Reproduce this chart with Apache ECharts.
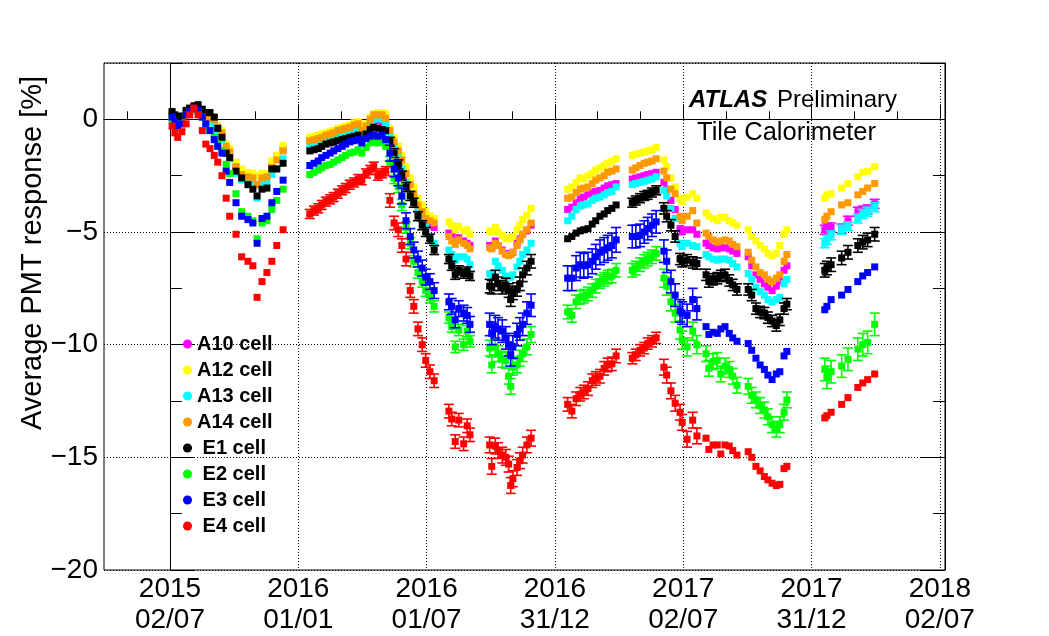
<!DOCTYPE html>
<html>
<head>
<meta charset="utf-8">
<script src="https://cdn.jsdelivr.net/npm/echarts@6/dist/echarts.min.js"></script>
<style>
  html, body { margin: 0; padding: 0; background: #fff; }
  #chart { width: 1049px; height: 636px; }
</style>
</head>
<body>
<div id="chart"></div>
<script>
// days after 2015-07-02 of each laser calibration point
const days = [
  3, 7, 11, 17, 23, 28, 34, 40, 46, 51, 57, 63, 68, 74, 80, 85, 94, 102, 111, 118, 124, 131, 138, 145, 152, 161,
  199, 205, 211, 216, 222, 228, 233, 239, 245, 250, 256, 262, 268, 273, 279, 285, 290, 296, 302, 307,
  313, 319, 325, 330, 336, 342, 347, 353, 359, 364, 370, 376, 397, 401, 406, 411, 418, 423, 427,
  455, 458, 463, 467, 473, 478, 482, 485, 488, 494, 498, 502, 508, 514,
  566, 572, 578, 584, 589, 595, 601, 606, 612, 618, 623, 629, 635,
  658, 663, 669, 675, 680, 686, 692,
  703, 707, 713, 719, 726, 729, 736, 744, 750,
  763, 767, 773, 779, 784, 790, 796, 801, 807, 823, 828, 834, 840, 846, 851, 857, 863, 868, 874, 878,
  932, 935, 941, 956, 965, 979, 986, 993, 1003
]
// first point of each period (error size is read per period)
const periodStart = [0, 26, 46, 65, 79, 92, 99, 108, 128]

const cellNames = ['A10 cell', 'A12 cell', 'A13 cell', 'A14 cell', 'E1 cell', 'E2 cell', 'E3 cell', 'E4 cell']
const cellColors = ['#ff00ff', '#ffff00', '#00ffff', '#ff9900', '#000000', '#00ff00', '#0000ff', '#ff0000']

const a10 = [
  0.2, 0.0, -0.1, 0.0, 0.3, 0.45, 0.55, 0.45, 0.25, 0.05, 0.0, -0.1, -0.45, -0.7, -1.3, -1.55, -2.1, -2.4, -2.5, -2.55, -2.9, -2.55, -2.5, -2.05, -1.65, -1.3,
  -0.95, -0.9, -0.85, -0.8, -0.75, -0.7, -0.65, -0.55, -0.5, -0.45, -0.4, -0.35, -0.3, -0.55, -0.45, -0.2, 0.0, -0.05, -0.1, -0.2,
  -0.8, -1.3, -1.7, -2.1, -2.7, -3.1, -3.5, -3.9, -4.2, -4.5, -4.7, -4.8, -5.05, -5.2, -5.4, -5.25, -5.4, -5.5, -5.6,
  -5.6, -5.7, -5.4, -5.6, -5.8, -5.95, -6.0, -6.0, -5.9, -5.5, -5.3, -5.1, -4.95, -4.7,
  -4.0, -3.9, -3.7, -3.5, -3.45, -3.35, -3.25, -3.2, -3.15, -3.05, -2.95, -2.9, -2.85,
  -2.65, -2.6, -2.55, -2.5, -2.45, -2.4, -2.35,
  -2.8, -3.1, -3.6, -4.0, -4.85, -5.0, -4.9, -4.9, -5.1,
  -5.5, -5.6, -5.7, -5.75, -5.7, -5.7, -5.75, -5.85, -5.95, -6.1, -6.5, -6.9, -7.1, -7.3, -7.45, -7.6, -7.4, -7.2, -6.7, -6.5,
  -4.9, -4.8, -4.8, -4.85, -4.5, -4.1, -4.05, -4.0, -3.75
]
const a12 = [
  0.3, 0.1, -0.1, 0.0, 0.3, 0.45, 0.55, 0.5, 0.3, 0.1, 0.15, 0.1, -0.3, -0.5, -1.1, -1.3, -1.9, -2.2, -2.35, -2.4, -2.5, -2.4, -2.4, -1.85, -1.6, -1.15,
  -0.8, -0.75, -0.7, -0.65, -0.6, -0.55, -0.5, -0.4, -0.35, -0.3, -0.25, -0.15, -0.1, -0.3, -0.2, 0.1, 0.25, 0.3, 0.3, 0.25,
  -0.4, -0.8, -1.2, -1.6, -2.1, -2.6, -3.0, -3.5, -3.8, -4.1, -4.3, -4.4, -4.55, -4.7, -4.9, -4.75, -4.95, -4.9, -5.1,
  -4.95, -5.0, -4.8, -5.0, -5.15, -5.3, -5.3, -5.25, -5.2, -4.9, -4.7, -4.45, -4.25, -3.95,
  -3.1, -3.0, -2.8, -2.6, -2.65, -2.5, -2.4, -2.25, -2.15, -2.05, -1.95, -1.85, -1.75,
  -1.6, -1.55, -1.5, -1.45, -1.4, -1.35, -1.25,
  -1.8, -2.1, -2.6, -3.0, -3.5, -3.65, -3.45, -3.3, -3.5,
  -4.15, -4.3, -4.4, -4.5, -4.35, -4.35, -4.5, -4.6, -4.7, -4.9, -5.2, -5.4, -5.6, -5.75, -5.95, -6.05, -5.95, -5.6, -5.1, -4.9,
  -3.5, -3.35, -3.3, -3.05, -2.85, -2.55, -2.35, -2.3, -2.1
]
const a13 = [
  0.3, 0.1, -0.1, 0.0, 0.3, 0.4, 0.5, 0.45, 0.2, 0.0, -0.1, -0.3, -0.6, -0.9, -1.5, -1.75, -2.4, -2.7, -2.8, -2.9, -3.5, -2.9, -2.85, -2.45, -2.2, -1.75,
  -1.1, -1.05, -1.0, -0.95, -0.9, -0.85, -0.8, -0.75, -0.7, -0.65, -0.6, -0.55, -0.5, -0.75, -0.5, -0.15, 0.0, 0.05, 0.0, -0.2,
  -0.7, -1.2, -1.6, -2.2, -2.8, -3.3, -3.7, -4.1, -4.4, -4.8, -5.2, -5.5, -5.8, -6.0, -6.25, -6.1, -6.1, -6.2, -6.45,
  -6.85, -6.9, -6.3, -6.5, -6.7, -6.95, -7.0, -7.0, -6.9, -6.55, -6.3, -6.0, -5.8, -5.5,
  -4.5, -4.3, -4.0, -3.85, -3.8, -3.75, -3.6, -3.5, -3.45, -3.35, -3.25, -3.2, -3.0,
  -2.9, -2.85, -2.8, -2.75, -2.7, -2.65, -2.55,
  -3.15, -3.4, -3.95, -4.4, -5.5, -5.65, -5.5, -5.6, -5.65,
  -6.0, -6.1, -6.2, -6.25, -6.2, -6.2, -6.25, -6.4, -6.55, -6.85, -7.1, -7.45, -7.65, -7.8, -8.0, -8.1, -8.0, -7.9, -7.3, -7.1,
  -5.5, -5.35, -5.15, -4.9, -4.75, -4.4, -4.2, -4.1, -3.9
]
const a14 = [
  0.25, 0.0, -0.15, -0.05, 0.3, 0.4, 0.5, 0.45, 0.3, 0.05, 0.05, 0.0, -0.35, -0.6, -1.2, -1.45, -2.1, -2.45, -2.55, -2.6, -2.9, -2.6, -2.55, -2.15, -1.8, -1.4,
  -0.95, -0.9, -0.85, -0.8, -0.7, -0.65, -0.6, -0.5, -0.45, -0.4, -0.35, -0.25, -0.2, -0.5, -0.3, 0.0, 0.2, 0.2, 0.2, 0.05,
  -0.5, -1.0, -1.4, -1.8, -2.4, -2.9, -3.3, -3.8, -4.1, -4.4, -4.5, -4.6, -5.2, -5.4, -5.55, -5.35, -5.5, -5.6, -5.75,
  -5.7, -5.75, -5.5, -5.6, -5.85, -6.0, -6.05, -6.0, -5.9, -5.6, -5.35, -5.1, -4.9, -4.6,
  -3.5, -3.45, -3.25, -3.1, -3.05, -3.0, -2.85, -2.7, -2.6, -2.5, -2.35, -2.3, -2.2,
  -2.25, -2.15, -2.05, -1.95, -1.9, -1.85, -1.75,
  -2.3, -2.6, -3.1, -3.3, -4.3, -4.5, -4.3, -4.05, -4.6,
  -5.05, -5.2, -5.35, -5.45, -5.4, -5.35, -5.4, -5.55, -5.65, -5.9, -6.25, -6.55, -6.8, -6.9, -7.1, -7.2, -7.05, -6.9, -6.3, -6.0,
  -4.45, -4.3, -4.1, -3.8, -3.7, -3.35, -3.2, -3.05, -2.85
]
const e1 = [
  0.35, 0.2, 0.1, 0.15, 0.4, 0.5, 0.6, 0.65, 0.45, 0.3, 0.3, 0.1, -0.4, -0.8, -1.5, -1.7, -2.3, -2.6, -2.9, -3.1, -3.4, -3.1, -3.05, -2.2, -2.2, -1.95,
  -1.4, -1.35, -1.3, -1.2, -1.1, -1.05, -1.0, -0.95, -0.9, -0.85, -0.8, -0.75, -0.7, -0.95, -0.65, -0.45, -0.35, -0.4, -0.45, -0.5,
  -1.0, -1.5, -2.0, -2.5, -3.0, -3.4, -3.7, -4.3, -4.7, -5.0, -5.3, -5.8, -6.2, -6.5, -6.9, -6.7, -6.85, -6.75, -6.95,
  -7.4, -7.45, -7.0, -7.3, -7.45, -7.35, -7.6, -8.0, -7.7, -7.55, -7.3, -6.9, -6.6, -6.3,
  -5.3, -5.2, -5.05, -4.95, -4.9, -4.85, -4.65, -4.5, -4.3, -4.2, -4.05, -3.95, -3.8,
  -3.7, -3.6, -3.5, -3.4, -3.35, -3.25, -3.15,
  -3.95, -4.3, -4.7, -5.2, -6.2, -6.3, -6.25, -6.35, -6.4,
  -6.9, -7.2, -7.1, -7.05, -6.95, -6.9, -7.15, -7.35, -7.55, -7.55, -7.8, -8.4, -8.55, -8.6, -8.8, -8.95, -9.15, -8.9, -8.4, -8.2,
  -6.7, -6.6, -6.45, -6.15, -5.9, -5.6, -5.45, -5.35, -5.1
]
const e2 = [
  0.0, -0.2, -0.3, -0.2, 0.2, 0.35, 0.45, 0.35, 0.1, -0.3, -0.5, -0.8, -1.1, -1.4, -2.0, -2.4, -3.3, -4.1, -4.3, -4.5, -5.3, -4.6, -4.5, -4.0, -3.6, -3.1,
  -2.45, -2.35, -2.25, -2.15, -2.05, -2.0, -1.9, -1.8, -1.7, -1.6, -1.5, -1.45, -1.35, -1.5, -1.25, -1.05, -1.0, -1.05, -1.0, -1.2,
  -1.9, -2.6, -3.0, -3.8, -4.8, -5.5, -6.3, -6.8, -7.2, -7.6, -7.9, -8.3, -8.8, -9.2, -10.1, -9.35, -10.0, -9.4, -9.85,
  -10.15, -10.9, -10.1, -10.4, -10.65, -10.7, -11.4, -11.85, -11.0, -10.9, -10.6, -10.4, -10.1, -9.55,
  -8.55, -8.7, -8.1, -7.9, -7.85, -7.75, -7.6, -7.4, -7.2, -7.1, -7.0, -6.95, -6.7,
  -6.7, -6.6, -6.45, -6.3, -6.2, -6.1, -5.95,
  -7.05, -7.4, -8.1, -8.6, -9.35, -9.8, -10.1, -9.4, -10.0,
  -10.4, -11.05, -10.75, -10.7, -11.3, -10.95, -11.1, -11.4, -11.8, -11.85, -12.25, -12.45, -12.7, -12.9, -13.2, -13.55, -13.75, -13.55, -13.0, -12.45,
  -11.1, -11.45, -11.2, -10.95, -10.65, -10.2, -10.0, -9.9, -9.1
]
const e3 = [
  0.1, -0.1, -0.3, -0.2, 0.2, 0.35, 0.5, 0.4, 0.1, -0.2, -0.5, -0.9, -1.2, -1.5, -2.3, -2.8, -3.7, -4.3, -4.45, -4.6, -5.5, -4.4, -4.3, -3.7, -3.2, -2.7,
  -2.05, -1.95, -1.85, -1.7, -1.6, -1.5, -1.4, -1.3, -1.2, -1.1, -1.0, -0.95, -0.9, -1.05, -0.85, -0.75, -0.7, -0.75, -0.7, -0.9,
  -1.5, -2.2, -2.6, -3.4, -4.5, -5.2, -5.8, -6.2, -6.6, -7.0, -7.2, -7.6, -8.1, -8.3, -8.9, -8.4, -8.6, -8.7, -9.1,
  -9.1, -9.5, -9.2, -9.3, -9.4, -9.7, -10.0, -10.45, -10.1, -9.55, -9.3, -9.1, -8.6, -8.25,
  -7.05, -7.05, -6.6, -6.45, -6.5, -6.45, -6.3, -6.1, -5.9, -5.8, -5.7, -5.6, -5.35,
  -5.2, -5.2, -5.15, -5.0, -4.85, -4.7, -4.55,
  -5.85, -6.3, -7.2, -7.8, -8.5, -8.6, -8.7, -8.0, -8.4,
  -9.2, -9.55, -9.45, -9.5, -9.3, -9.2, -9.5, -9.7, -9.85, -9.95, -10.25, -10.6, -10.9, -11.1, -11.35, -11.55, -11.3, -11.2, -10.5, -10.3,
  -8.45, -8.3, -8.0, -7.8, -7.55, -7.2, -6.95, -6.8, -6.55
]
const e4 = [
  -0.3, -0.6, -0.8, -0.55, -0.2, 0.2, 0.5, 0.2, -0.5, -1.1, -1.3, -1.6, -1.9, -2.5, -3.5, -4.3, -5.1, -6.1, -6.3, -6.5, -7.9, -7.2, -6.8, -6.3, -5.6, -4.9,
  -4.2, -4.05, -3.95, -3.8, -3.65, -3.55, -3.45, -3.3, -3.15, -3.05, -2.9, -2.8, -2.65, -2.7, -2.4, -2.25, -2.1, -2.5, -2.4, -2.3,
  -3.6, -4.6, -4.9, -5.6, -6.2, -7.6, -8.3, -9.3, -10.0, -10.7, -11.2, -11.6, -12.95, -13.3, -14.3, -13.35, -14.4, -13.6, -14.0,
  -14.45, -15.4, -14.5, -14.7, -14.9, -15.0, -15.3, -16.25, -15.95, -15.45, -15.15, -14.9, -14.45, -14.15,
  -12.65, -12.95, -12.4, -12.2, -12.1, -11.95, -11.6, -11.5, -11.4, -11.05, -10.9, -10.85, -10.5,
  -10.6, -10.45, -10.25, -10.15, -9.95, -9.85, -9.7,
  -11.0, -11.35, -12.05, -12.6, -13.0, -13.45, -14.2, -13.35, -14.05,
  -14.15, -14.65, -14.45, -14.45, -14.85, -14.45, -14.5, -14.7, -14.9, -14.75, -15.0, -15.4, -15.6, -15.85, -16.0, -16.15, -16.25, -16.2, -15.5, -15.4,
  -13.25, -13.15, -13.0, -12.65, -12.35, -11.9, -11.7, -11.55, -11.3
]

// error bar half-size [%] per period
const a10Err = [0.08, 0.08, 0.1, 0.12, 0.1, 0.1, 0.15, 0.15, 0.2]
const a12Err = [0.08, 0.08, 0.1, 0.12, 0.1, 0.1, 0.15, 0.12, 0.15]
const a13Err = [0.08, 0.08, 0.12, 0.15, 0.12, 0.12, 0.15, 0.15, 0.2]
const a14Err = [0.08, 0.08, 0.1, 0.12, 0.1, 0.1, 0.15, 0.15, 0.15]
const e1Err = [0.08, 0.1, 0.2, 0.3, 0.15, 0.2, 0.25, 0.25, 0.3]
const e2Err = [0.1, 0.12, 0.25, 0.35, 0.3, 0.3, 0.4, 0.35, 0.5]
const e3Err = [0.12, 0.15, 0.35, 0.5, 0.55, 0.5, 0.5, 0.1, 0.12]
const e4Err = [0.15, 0.2, 0.3, 0.35, 0.3, 0.25, 0.35, 0.1, 0.15]

const majorDays = [0, 182.625, 365.25, 547.875, 730.5, 913.125, 1095.75]
const tickLabels = ['2015\n02/07', '2016\n01/01', '2016\n01/07', '2016\n31/12', '2017\n02/07', '2017\n31/12', '2018\n02/07']

const cellValues = [a10, a12, a13, a14, e1, e2, e3, e4]
const cellErrors = [a10Err, a12Err, a13Err, a14Err, e1Err, e2Err, e3Err, e4Err]

const dayMin = -93.9
const dayMax = 1103.1
const minorDays = []
for (let d = -60.875; d < dayMax; d += 60.875) minorDays.push(d)

const font = 'Liberation Sans, Arial, sans-serif'

function periodOf(i) {
  let p = 0
  while (p + 1 < periodStart.length && i >= periodStart[p + 1]) p++
  return p
}

// square marker with vertical error bar
function renderPoint(params, api) {
  const x = api.value(0)
  const y = api.value(1)
  const err = api.value(2)
  const c = api.coord([x, y])
  const hi = api.coord([x, y + err])[1]
  const lo = api.coord([x, y - err])[1]
  const color = api.visual('color')
  const line = { stroke: color, lineWidth: 1.6 }
  const children = []
  if (lo - hi > 8) {
    children.push(
      { type: 'line', shape: { x1: c[0], y1: hi, x2: c[0], y2: lo }, style: line },
      { type: 'line', shape: { x1: c[0] - 5, y1: hi, x2: c[0] + 5, y2: hi }, style: line },
      { type: 'line', shape: { x1: c[0] - 5, y1: lo, x2: c[0] + 5, y2: lo }, style: line }
    )
  }
  children.push({ type: 'rect', shape: { x: c[0] - 3.5, y: c[1] - 3.5, width: 7, height: 7 }, style: { fill: color } })
  return { type: 'group', children }
}

const myChart = echarts.init(document.getElementById('chart'))
const dotted = { color: '#000', width: 1, type: [1, 2] }

const option = {
  animation: false,
  grid: { left: 104, right: 104, top: 63, bottom: 64, show: true, borderColor: '#000', borderWidth: 1 },
  legend: {
    data: cellNames,
    orient: 'vertical',
    left: 178,
    top: 329,
    icon: 'circle',
    itemWidth: 9,
    itemHeight: 9,
    itemGap: 6,
    formatter: name => (name[0] === 'E' ? ' ' + name : name),
    textStyle: { fontSize: 20, fontWeight: 'bold', color: '#000', fontFamily: font, lineHeight: 20 }
  },
  xAxis: [
    {
      type: 'value',
      min: dayMin,
      max: dayMax,
      position: 'bottom',
      axisLine: { show: true, lineStyle: { color: '#000', width: 1 } },
      axisTick: { show: true, inside: true, length: 15, customValues: majorDays, lineStyle: { color: '#000' } },
      axisLabel: {
        customValues: majorDays,
        margin: 4,
        fontSize: 28,
        lineHeight: 31,
        color: '#000',
        fontFamily: font,
        formatter: v => tickLabels[majorDays.findIndex(d => Math.abs(d - v) < 1)] || ''
      },
      splitLine: { show: true, lineStyle: dotted }
    },
    {
      type: 'value',
      min: dayMin,
      max: dayMax,
      position: 'bottom',
      axisLine: { show: false },
      axisTick: { show: true, inside: true, length: 8, customValues: minorDays, lineStyle: { color: '#000' } },
      axisLabel: { show: false },
      splitLine: { show: false }
    }
  ],
  yAxis: [
    {
      type: 'value',
      min: -20,
      max: 2.5,
      interval: 5,
      position: 'left',
      axisLine: { show: true, lineStyle: { color: '#000', width: 1 } },
      axisTick: { show: true, inside: true, length: 25, lineStyle: { color: '#000' } },
      axisLabel: {
        showMaxLabel: false,
        margin: 6,
        fontSize: 28,
        color: '#000',
        fontFamily: font,
        formatter: v => String(v).replace('-', '\u2212')
      },
      splitLine: { show: true, lineStyle: dotted }
    },
    {
      type: 'value',
      min: -20,
      max: 2.5,
      interval: 2.5,
      position: 'left',
      axisLine: { show: false },
      axisTick: { show: true, inside: true, length: 12, lineStyle: { color: '#000' } },
      axisLabel: { show: false },
      splitLine: { show: false }
    },
    {
      type: 'value',
      min: -20,
      max: 2.5,
      interval: 5,
      position: 'right',
      axisLine: { show: true, lineStyle: { color: '#000', width: 1 } },
      axisTick: { show: true, inside: true, length: 25, lineStyle: { color: '#000' } },
      axisLabel: { show: false },
      splitLine: { show: false }
    },
    {
      type: 'value',
      min: -20,
      max: 2.5,
      interval: 2.5,
      position: 'right',
      axisLine: { show: false },
      axisTick: { show: true, inside: true, length: 12, lineStyle: { color: '#000' } },
      axisLabel: { show: false },
      splitLine: { show: false }
    }
  ],
  graphic: [
    {
      type: 'text', x: 33, y: 253, rotation: Math.PI / 2,
      style: { text: 'Average PMT response [%]', fontSize: 29, fontFamily: font, fill: '#000', align: 'center', verticalAlign: 'middle' }
    },
    {
      type: 'text', x: 689, y: 100,
      style: { text: 'ATLAS', fontSize: 24, fontWeight: 'bold', fontStyle: 'italic', fontFamily: font, fill: '#000', align: 'left', verticalAlign: 'middle' }
    },
    {
      type: 'text', x: 777, y: 100,
      style: { text: 'Preliminary', fontSize: 24, fontFamily: font, fill: '#000', align: 'left', verticalAlign: 'middle' }
    },
    {
      type: 'text', x: 697, y: 133,
      style: { text: 'Tile Calorimeter', fontSize: 25.5, fontFamily: font, fill: '#000', align: 'left', verticalAlign: 'middle' }
    }
  ],
  series: cellNames.map((name, k) => ({
    name,
    type: 'custom',
    xAxisIndex: 0,
    yAxisIndex: 0,
    renderItem: renderPoint,
    itemStyle: { color: cellColors[k] },
    encode: { x: 0, y: 1 },
    data: days.map((d, i) => [d, cellValues[k][i], cellErrors[k][periodOf(i)]])
  }))
}

myChart.setOption(option)
</script>
</body>
</html>
